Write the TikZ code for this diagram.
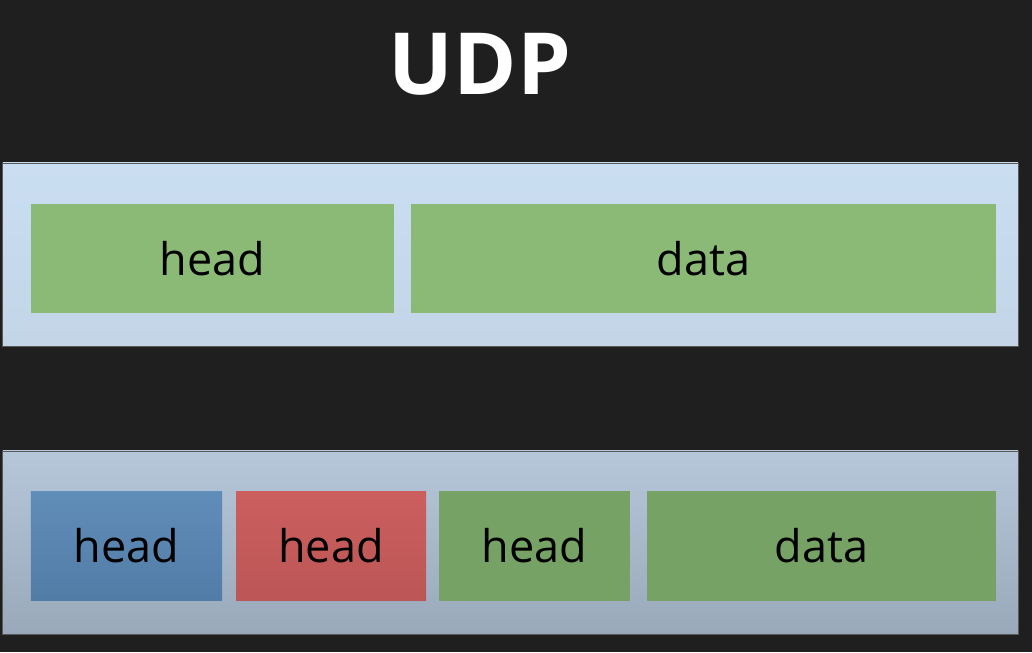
\documentclass[tikz,border=0pt]{standalone}
\usepackage{fontspec}
\setmainfont{Open Sans}
\usetikzlibrary{positioning}

\definecolor{bg}{HTML}{1F1F1F}
\definecolor{paleTop}{HTML}{CADEF2}
\definecolor{paleBot}{HTML}{C3D5E7}
\definecolor{greyTop}{HTML}{B5C7D9}
\definecolor{greyBot}{HTML}{99A9BA}
\definecolor{grn}{HTML}{8ABA76}
\definecolor{grnDark}{HTML}{76A265}
\definecolor{blu}{HTML}{5887B5}
\definecolor{rd}{HTML}{CC5E5E}

\tikzstyle{frame} = [rectangle, minimum width=25.375cm, minimum height=4.575cm, inner sep=0pt, draw=black!65, line width=0.6pt]
\tikzstyle{seg} = [rectangle, minimum height=2.725cm, inner sep=0pt, outer sep=0pt, text=black, font=\fontsize{32}{36}\selectfont]

\begin{document}
\begin{tikzpicture}[x=0.025cm,y=-0.025cm]
    \fill[bg] (0,0) rectangle (1032,652);
    \node[text=white, font=\fontsize{61}{70}\selectfont\bfseries] (title) at (480,64) {UDP};

    % one packet
    \node[frame, top color=paleTop, bottom color=paleBot] (top) at (510.5,254.5) {};
    \node[seg, fill=grn, minimum width=9.075cm] (head) at (212.5,258.5) {head};
    \node[seg, fill=grn, minimum width=14.625cm, right=0.425cm of head] (data) {data};

    % nested heads
    \node[frame, top color=greyTop, bottom color=greyBot] (bottom) at (510.5,542.5) {};
    \node[seg, top color=blu!95!white, bottom color=blu!92!black, minimum width=4.775cm] (ipHead) at (126.5,546) {head};
    \node[seg, top color=rd, bottom color=rd!92!black, minimum width=4.75cm, right=0.35cm of ipHead] (tcpHead) {head};
    \node[seg, fill=grnDark, minimum width=4.775cm, right=0.325cm of tcpHead] (udpHead) {head};
    \node[seg, fill=grnDark, minimum width=8.725cm, right=0.425cm of udpHead] (udpData) {data};
\end{tikzpicture}
\end{document}
